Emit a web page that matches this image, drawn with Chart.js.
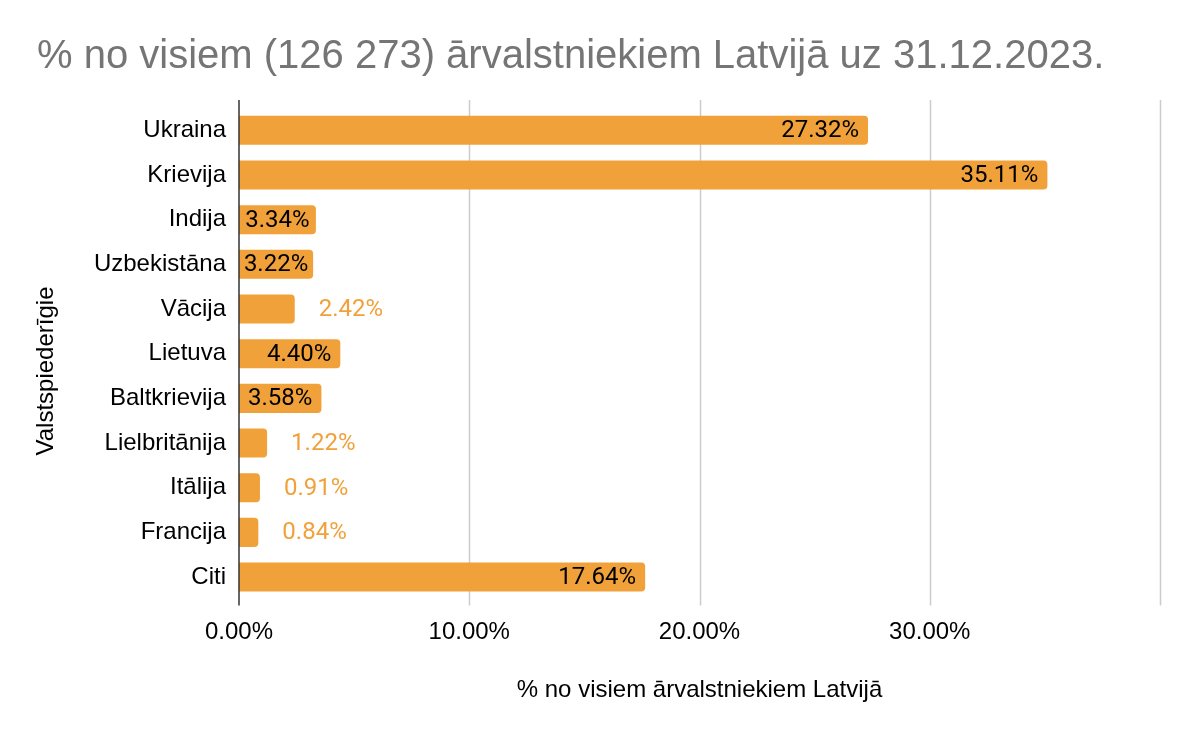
<!DOCTYPE html>
<html>
<head>
<meta charset="utf-8">
<script src="https://cdn.jsdelivr.net/npm/chart.js@4"></script>
<style>
html,body{margin:0;padding:0;background:#fff;}
#wrap{width:1196px;height:738px;}
</style>
</head>
<body>
<div id="wrap"><canvas id="c" width="1196" height="738"></canvas></div>
<script>
const chartTitle = '% no visiem (126 273) ārvalstniekiem Latvijā uz 31.12.2023.';
const xAxisTitle = '% no visiem ārvalstniekiem Latvijā';
const yAxisTitle = 'Valstspiederīgie';
const categories = ['Ukraina','Krievija','Indija','Uzbekistāna','Vācija','Lietuva','Baltkrievija','Lielbritānija','Itālija','Francija','Citi'];
const values = [27.32, 35.11, 3.34, 3.22, 2.42, 4.40, 3.58, 1.22, 0.91, 0.84, 17.64];
const xTickValues = [0, 10, 20, 30, 40];
const xTickLabels = ['0.00%', '10.00%', '20.00%', '30.00%', ''];

const BAR = '#f1a13a';
const SANS = '"Liberation Sans", Arial, sans-serif';

const decor = {
  id: 'decor',
  beforeDatasetsDraw(chart) {
    const {ctx, chartArea} = chart;
    const xs = chart.scales.x;
    ctx.save();
    ctx.strokeStyle = '#cccccc';
    ctx.lineWidth = 1.5;
    xTickValues.forEach(v => {
      if (v === 0) return;
      const px = Math.round(xs.getPixelForValue(v)) + 0.5;
      ctx.beginPath();
      ctx.moveTo(px, chartArea.top - 8);
      ctx.lineTo(px, chartArea.bottom + 6);
      ctx.stroke();
    });
    ctx.restore();
  },
  afterDatasetsDraw(chart) {
    const {ctx, chartArea} = chart;
    const xs = chart.scales.x;
    const meta = chart.getDatasetMeta(0);
    ctx.save();
    // value labels
    ctx.font = '24px Roboto, sans-serif';
    ctx.textBaseline = 'middle';
    meta.data.forEach((bar, i) => {
      const txt = values[i].toFixed(2) + '%';
      const w = ctx.measureText(txt).width;
      const bw = bar.x - bar.base;
      if (w + 6 <= bw) {
        ctx.fillStyle = '#000000';
        ctx.textAlign = 'right';
        ctx.fillText(txt, bar.x - Math.min(9, (bw - w) / 2), bar.y + 1);
      } else {
        ctx.fillStyle = BAR;
        ctx.textAlign = 'left';
        ctx.fillText(txt, bar.x + 24, bar.y + 1);
      }
    });
    // axis line
    const x0 = xs.getPixelForValue(0);
    ctx.strokeStyle = '#333333';
    ctx.lineWidth = 1.5;
    ctx.beginPath();
    ctx.moveTo(x0, chartArea.top - 8);
    ctx.lineTo(x0, chartArea.bottom + 6);
    ctx.stroke();
    // titles
    ctx.fillStyle = '#757575';
    ctx.font = '40px ' + SANS;
    ctx.textAlign = 'left';
    ctx.textBaseline = 'middle';
    ctx.fillText(chartTitle, 37, 57);
    ctx.fillStyle = '#000000';
    ctx.font = '24px ' + SANS;
    ctx.textAlign = 'center';
    ctx.fillText(xAxisTitle, (chartArea.left + chartArea.right) / 2, 690);
    ctx.translate(46, 371);
    ctx.rotate(-Math.PI / 2);
    ctx.fillText(yAxisTitle, 0, 0);
    ctx.restore();
  }
};

new Chart(document.getElementById('c'), {
  type: 'bar',
  data: {
    labels: categories,
    datasets: [{
      data: values,
      backgroundColor: BAR,
      borderRadius: 4,
      barPercentage: 0.65,
      categoryPercentage: 1.0
    }]
  },
  options: {
    indexAxis: 'y',
    responsive: false,
    animation: false,
    devicePixelRatio: 1,
    layout: { padding: { top: 108, right: 36, left: 0, bottom: 0 } },
    plugins: { legend: { display: false }, tooltip: { enabled: false } },
    scales: {
      x: {
        min: 0, max: 40,
        afterBuildTicks(scale) { scale.ticks = xTickValues.map(v => ({ value: v })); },
        afterFit(scale) { scale.height = 138.6; },
        grid: { display: false, drawTicks: false },
        border: { display: false },
        ticks: {
          padding: 19,
          color: '#000000',
          font: { family: SANS, size: 24 },
          maxRotation: 0,
          autoSkip: false,
          callback(value) { const i = xTickValues.indexOf(value); return i >= 0 ? xTickLabels[i] : ''; }
        }
      },
      y: {
        afterFit(scale) { scale.width = 239; },
        grid: { display: false, drawTicks: false },
        border: { display: false },
        ticks: {
          padding: 13,
          color: '#000000',
          font: { family: SANS, size: 24 },
          autoSkip: false
        }
      }
    }
  },
  plugins: [decor]
});
</script>
</body>
</html>
